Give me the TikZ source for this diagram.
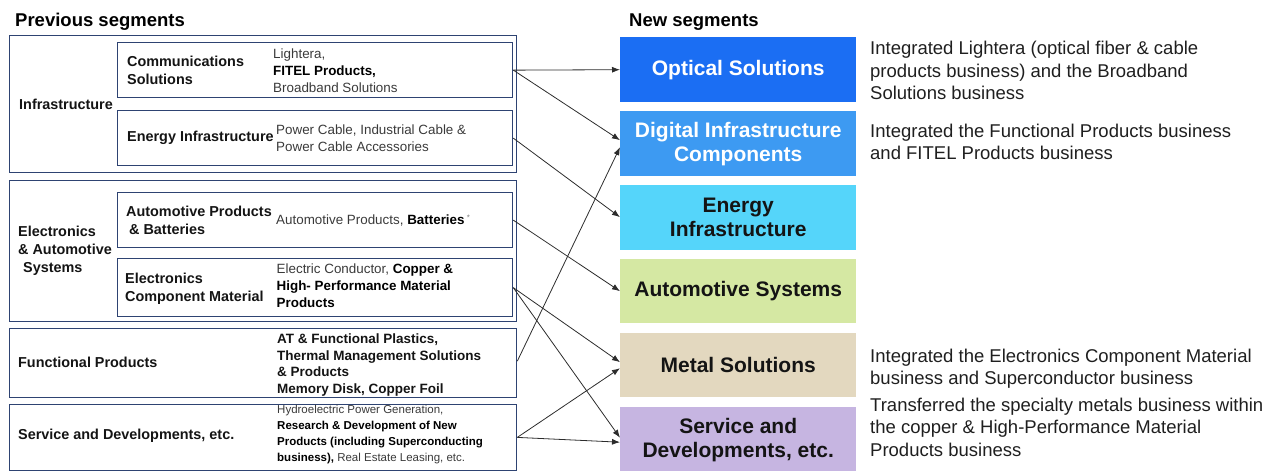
\documentclass[tikz,border=0pt]{standalone}
\usepackage{fontspec}
\setmainfont{Liberation Sans}
\usetikzlibrary{arrows.meta,calc}

\definecolor{boxline}{HTML}{2E4372}
\definecolor{optblue}{HTML}{1B6EF3}
\definecolor{digblue}{HTML}{3D9AF2}
\definecolor{encyan}{HTML}{55D5FA}
\definecolor{autogreen}{HTML}{D5E8A3}
\definecolor{metalbeige}{HTML}{E3D8BF}
\definecolor{svclav}{HTML}{C6B5E1}
\definecolor{detailgray}{HTML}{3A3A3A}
\definecolor{conncol}{HTML}{2C2C2C}

\newcommand{\fsz}[2]{\fontsize{#1}{#2}\selectfont}

\begin{document}
\begin{tikzpicture}[x=1pt,y=-1pt,
  segbox/.style={draw=boxline,line width=1.3pt,anchor=north west,inner sep=0pt},
  wide/.style={segbox,minimum width=507.5pt},
  narrow/.style={segbox,minimum width=395.5pt},
  newseg/.style={anchor=north west,inner sep=0pt,minimum width=236pt,
    align=center,font=\fsz{21}{24}\bfseries},
  heading/.style={anchor=base west,inner sep=0pt,font=\fsz{18.5}{22}\bfseries},
  grouplabel/.style={anchor=west,inner sep=0pt,align=left,font=\fsz{14.4}{17.8}\bfseries,text=black!92},
  detail/.style={anchor=west,inner sep=0pt,align=left,font=\fsz{13.4}{16.8},text=detailgray},
  desc/.style={anchor=west,inner sep=0pt,align=left,font=\fsz{18.5}{22.5},text=black!88},
  conn/.style={draw=conncol,line width=0.8pt,-{Latex[length=8pt,width=6pt]}}
]
\useasboundingbox (0,0) rectangle (1270,471);

% column headings
\node[heading] (prevhead) at (15,27) {Previous segments};
\node[heading] (newhead) at (629,27) {New segments};

% previous segments: group boxes and sub-segment boxes
\node[wide,minimum height=137pt] (infra) at (8.5,35) {};
\node[narrow,minimum height=55pt] (comm) at (116.5,42) {};
\node[narrow,minimum height=55pt] (enin) at (116.5,110) {};

\node[wide,minimum height=141pt] (elec) at (8.5,180) {};
\node[narrow,minimum height=55pt] (autop) at (116.5,192) {};
\node[narrow,minimum height=58pt] (ecm) at (116.5,258) {};

\node[wide,minimum height=69pt] (func) at (8.5,328) {};
\node[wide,minimum height=65.5pt] (svco) at (8.5,404) {};

% labels of the previous segments
\node[grouplabel] (infralbl) at (19,104) {Infrastructure};
\node[grouplabel] (commlbl) at (127,70.5) {Communications\\Solutions};
\node[detail] (commdet) at (273,71) {Lightera,\\\textbf{\color{black}FITEL Products,}\\Broadband Solutions};
\node[grouplabel] (eninlbl) at (127,138) {Energy Infrastructure};
\node[detail] (eninldet) at (276,138) {Power Cable, Industrial Cable \&\\Power Cable Accessories};

\node[grouplabel] (eleclbl) at (18,251) {Electronics\\\& Automotive\\\hspace*{5pt}Systems};
\node[grouplabel] (autoplbl) at (126,220.5) {Automotive Products\\\hspace*{3pt}\& Batteries};
\node[detail] (autopdet) at (276,220) {Automotive Products, \textbf{\color{black}Batteries}\,\raisebox{4pt}{\color{gray}\fsz{8}{8}*}};
\node[grouplabel] (ecmlbl) at (125,288.5) {Electronics\\Component Material};
\node[detail] (ecmdet) at (276.5,286) {Electric Conductor, \textbf{\color{black}Copper \&}\\\textbf{\color{black}High- Performance Material}\\\textbf{\color{black}Products}};

\node[grouplabel] (funclbl) at (18,362) {Functional Products};
\node[detail,font=\fsz{13.5}{16.6}\bfseries,text=black!92] (funcdet) at (277,365)
  {AT \& Functional Plastics,\\Thermal Management Solutions\\\& Products\\Memory Disk, Copper Foil};

\node[grouplabel] (svcolbl) at (18,436) {Service and Developments, etc.};
\node[detail,font=\fsz{11.5}{15.8}] (svcodet) at (277,434.5)
  {Hydroelectric Power Generation,\\
   \textbf{\color{black}Research \& Development of New}\\
   \textbf{\color{black}Products (including Superconducting}\\
   \textbf{\color{black}business),} Real Estate Leasing, etc.};

% new segments
\node[newseg,fill=optblue,minimum height=65pt,text=white] (opt) at (620,37) {Optical Solutions};
\node[newseg,fill=digblue,minimum height=65pt,text=white] (dig) at (620,111) {Digital Infrastructure\\Components};
\node[newseg,fill=encyan,minimum height=65pt,text=black!92] (eny) at (620,184.5) {Energy\\Infrastructure};
\node[newseg,fill=autogreen,minimum height=64pt,text=black!92] (ats) at (620,259) {Automotive Systems};
\node[newseg,fill=metalbeige,minimum height=64pt,text=black!92] (mtl) at (620,333) {Metal Solutions};
\node[newseg,fill=svclav,minimum height=66pt,text=black!92] (svn) at (620,407) {Service and\\Developments, etc.};

% notes beside the new segments
\node[desc] (optnote) at (870,70.8) {Integrated Lightera (optical fiber \& cable\\products business) and the Broadband\\Solutions business};
\node[desc] (dignote) at (870,142) {Integrated the Functional Products business\\and FITEL Products business};
\node[desc] (mtlnote) at (870,368.5) {Integrated the Electronics Component Material\\business and Superconductor business};
\node[desc] (svnnote) at (870,427) {Transferred the specialty metals business within\\the copper \& High-Performance Material\\Products business};

% reorganisation connectors
\draw[conn] (comm.east) -- (opt.west);
\draw[conn] (comm.east) -- ($(dig.west)+(0,-3.5)$);
\draw[conn] (enin.east) -- (eny.west);
\draw[conn] ($(func.east)+(0,-2)$) -- ($(dig.west)+(0,3.5)$);
\draw[conn] (autop.east) -- (ats.west);
\draw[conn] (ecm.east) -- ($(mtl.west)+(0,-3)$);
\draw[conn] (ecm.east) -- ($(svn.west)+(0,-2.5)$);
\draw[conn] (svco.east) -- ($(mtl.west)+(0,3)$);
\draw[conn] (svco.east) -- ($(svn.west)+(0,2)$);
\end{tikzpicture}
\end{document}
